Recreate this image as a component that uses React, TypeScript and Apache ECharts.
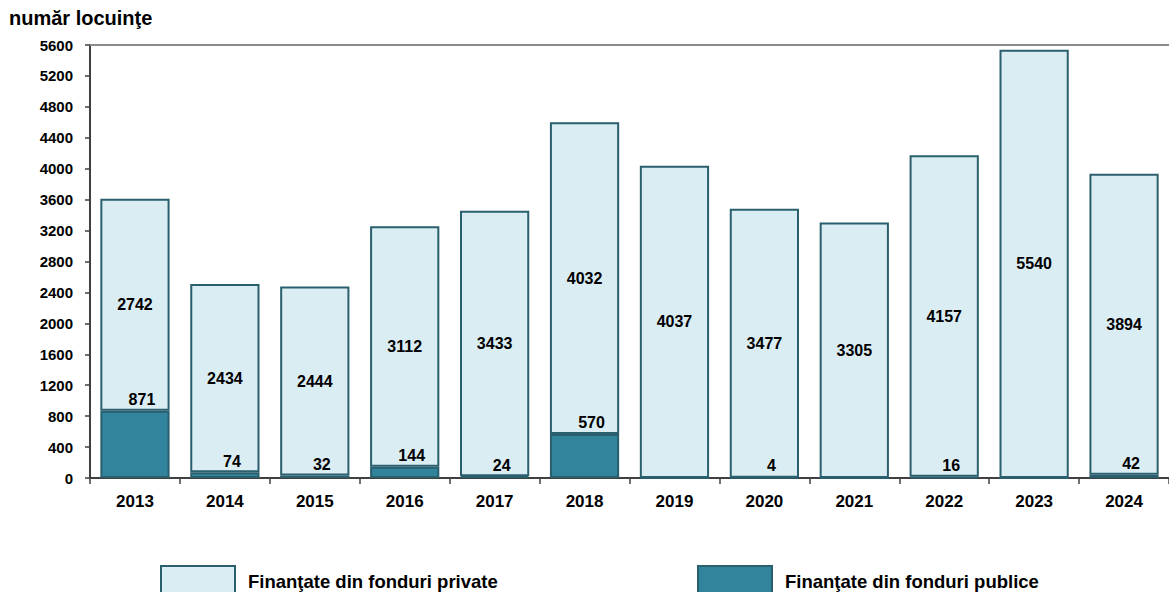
import React, { useEffect, useRef } from "react";
import * as echarts from "echarts";

const years = ["2013", "2014", "2015", "2016", "2017", "2018", "2019", "2020", "2021", "2022", "2023", "2024"];
const privateFunds = [2742, 2434, 2444, 3112, 3433, 4032, 4037, 3477, 3305, 4157, 5540, 3894];
const publicFunds = [871, 74, 32, 144, 24, 570, 0, 4, 0, 16, 0, 42];
const seriesNames = ["Finanţate din fonduri private", "Finanţate din fonduri publice"];
const yTitle = "număr locuinţe";

const SANS = '"Liberation Sans", Arial, sans-serif';
const BORDER = "#2a5f6d";

export default function App() {
  const ref = useRef<HTMLDivElement>(null);
  useEffect(() => {
    if (!ref.current) return;
    const chart = echarts.init(ref.current, null, { renderer: "svg" });
    const legendText = { fontFamily: SANS, fontWeight: "bold", fontSize: 18.5, color: "#000", padding: [0, 0, 0, 8] };
    chart.setOption({
      animation: false,
      backgroundColor: "#ffffff",
      title: {
        text: yTitle,
        left: 9,
        top: 8,
        padding: 0,
        textStyle: { fontFamily: SANS, fontWeight: "bold", fontSize: 20, color: "#000" },
      },
      legend: [
        {
          data: [seriesNames[0]],
          left: 160,
          top: 565,
          padding: 0,
          icon: "rect",
          itemWidth: 74,
          itemHeight: 30,
          textStyle: legendText,
        },
        {
          data: [seriesNames[1]],
          left: 697,
          top: 565,
          padding: 0,
          icon: "rect",
          itemWidth: 74,
          itemHeight: 30,
          textStyle: legendText,
        },
      ],
      grid: { left: 90, top: 45, width: 1087, height: 433, containLabel: false },
      xAxis: [
        {
          type: "category",
          data: years,
          axisLine: { show: true, lineStyle: { color: "#404040", width: 2 } },
          axisTick: { show: true, length: 6, lineStyle: { color: "#404040", width: 1.5 } },
          axisLabel: { margin: 15, fontFamily: SANS, fontWeight: "bold", fontSize: 17, color: "#000" },
          splitLine: { show: false },
        },
        {
          type: "category",
          data: years,
          position: "top",
          axisLine: { show: true, lineStyle: { color: "#8a8a8a", width: 2 } },
          axisTick: { show: false },
          axisLabel: { show: false },
          splitLine: { show: false },
        },
      ],
      yAxis: {
        type: "value",
        min: 0,
        max: 5600,
        interval: 400,
        axisLine: { show: true, lineStyle: { color: "#404040", width: 2 } },
        axisTick: { show: true, length: 5, lineStyle: { color: "#404040", width: 1.5 } },
        axisLabel: {
          margin: 17,
          fontFamily: SANS,
          fontWeight: "bold",
          fontSize: 15,
          color: "#000",
          formatter: (v: number) => String(v),
        },
        splitLine: { show: false },
      },
      series: [
        {
          name: seriesNames[1],
          type: "bar",
          stack: "total",
          data: publicFunds,
          barCategoryGap: "23%",
          itemStyle: { color: "#31849b", borderColor: BORDER, borderWidth: 2 },
          label: {
            show: true,
            position: "top",
            distance: 3,
            offset: [7, 0],
            fontFamily: SANS,
            fontWeight: "bold",
            fontSize: 16,
            color: "#000",
            formatter: (p: any) => (p.value ? String(p.value) : ""),
          },
        },
        {
          name: seriesNames[0],
          type: "bar",
          stack: "total",
          data: privateFunds,
          barCategoryGap: "23%",
          itemStyle: { color: "#daedf3", borderColor: BORDER, borderWidth: 2 },
          label: {
            show: true,
            position: "inside",
            fontFamily: SANS,
            fontWeight: "bold",
            fontSize: 16,
            color: "#000",
          },
        },
      ],
    });
    return () => chart.dispose();
  }, []);
  return (
    <div
      ref={ref}
      style={{ position: "fixed", left: 0, top: 0, width: 1169, height: 592, background: "#fff" }}
    />
  );
}
